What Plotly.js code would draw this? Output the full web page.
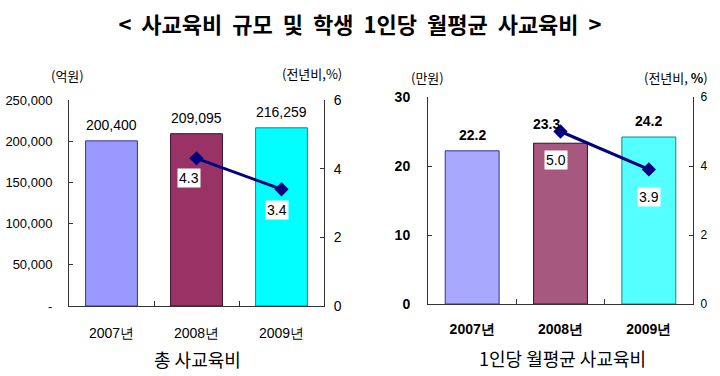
<!DOCTYPE html>
<html><head><meta charset="utf-8">
<script src="https://cdn.plot.ly/plotly-3.0.1.min.js"></script>
<style>body{margin:0;background:#fff}#c{width:720px;height:376px}</style>
</head><body><div id="c"></div>
<script>
// ---- data ----
const years = ['2007년', '2008년', '2009년'];
const totalCost = [200400, 209095, 216259];           // 억원
const totalCostLabels = ['200,400', '209,095', '216,259'];
const growthYears = ['2008년', '2009년'];
const totalGrowth = [4.3, 3.4];                         // 전년비 %
const perCapita = [22.2, 23.3, 24.2];                   // 만원
const perCapitaGrowth = [5.0, 3.9];                     // 전년비 %
const leftTickVals = [0, 50000, 100000, 150000, 200000, 250000];
const leftTickText = ['-', '50,000', '100,000', '150,000', '200,000', '250,000'];
const pctTickVals = [0, 2, 4, 6];
const perTickVals = [0, 10, 20, 30];

// ---- styles ----
const NARROW = '"Liberation Sans Narrow", "Arial Narrow", "Liberation Sans", Arial, sans-serif';
const KR = '"Noto Sans CJK KR", "Liberation Sans", sans-serif';
const colorsL = ['#9999FF', '#993366', '#00FFFF'];
const colorsR = ['#A8A8FF', '#A6587E', '#55FFFF'];
const outline = ['#333399', '#3a1028', '#118888'];

const traces = [
  {type: 'bar', x: years, y: totalCost, xaxis: 'x', yaxis: 'y',
   marker: {color: colorsL, line: {color: outline, width: 1}}, hoverinfo: 'none'},
  {type: 'scatter', mode: 'lines+markers', x: growthYears, y: totalGrowth, xaxis: 'x', yaxis: 'y2',
   line: {color: '#000080', width: 3}, marker: {symbol: 'diamond', size: 11, color: '#000080'}},
  {type: 'bar', x: years, y: perCapita, xaxis: 'x2', yaxis: 'y3',
   marker: {color: colorsR, line: {color: outline, width: 1}}, hoverinfo: 'none'},
  {type: 'scatter', mode: 'lines+markers', x: growthYears, y: perCapitaGrowth, xaxis: 'x2', yaxis: 'y4',
   line: {color: '#000080', width: 3}, marker: {symbol: 'diamond', size: 11, color: '#000080'}}
];

const tickFontL = {family: NARROW, size: 13, color: '#000'};
const tickFontRB = {family: NARROW, size: 14, color: '#000', weight: 'bold'};
const axisBase = {showline: true, linecolor: '#333', linewidth: 1, showgrid: false, zeroline: false,
                  ticks: 'inside', ticklen: 4, tickcolor: '#333', fixedrange: true};

const anns = [];
// bar value labels
totalCost.forEach((v, i) => anns.push({x: years[i], y: v, xref: 'x', yref: 'y', text: totalCostLabels[i],
  showarrow: false, yanchor: 'bottom', yshift: 6, font: {family: NARROW, size: 14, color: '#000'}}));
const perShiftX = [0, -14, 0];
perCapita.forEach((v, i) => anns.push({x: years[i], y: v, xref: 'x2', yref: 'y3', text: v.toFixed(1),
  showarrow: false, yanchor: 'bottom', yshift: i === 1 ? 9 : 6, xshift: perShiftX[i],
  font: {family: NARROW, size: 14, color: '#000', weight: 'bold'}}));
// growth labels (white boxes)
const gL = [[-8, -20], [-5, -21]];
totalGrowth.forEach((v, i) => anns.push({x: growthYears[i], y: v, xref: 'x', yref: 'y2', text: v.toFixed(1),
  showarrow: false, xshift: gL[i][0], yshift: gL[i][1], bgcolor: '#fff', borderpad: 1,
  font: {family: NARROW, size: 14, color: '#000'}}));
const gR = [[-5, -28], [0, -28]];
perCapitaGrowth.forEach((v, i) => anns.push({x: growthYears[i], y: v, xref: 'x2', yref: 'y4', text: v.toFixed(1),
  showarrow: false, xshift: gR[i][0], yshift: gR[i][1], bgcolor: '#fff', borderpad: 1,
  font: {family: NARROW, size: 14, color: '#000'}}));
// unit labels & subplot titles
const paperText = (x, y, text, font) => anns.push({xref: 'paper', yref: 'paper', x: x / 720, y: 1 - y / 376,
  text, showarrow: false, xanchor: 'center', yanchor: 'middle', font});
paperText(67, 75, '(억원)', {family: KR, size: 13, color: '#000'});
paperText(312, 74, '(전년비,%)', {family: KR, size: 13, color: '#000'});
paperText(427, 78, '(만원)', {family: KR, size: 13, color: '#000'});
paperText(676, 78, '(전년비, <b>%</b>)', {family: KR, size: 13, color: '#000'});
paperText(197, 359, '총 사교육비', {family: KR, size: 18, color: '#000'});
paperText(562, 358, '1인당 월평균 사교육비', {family: KR, size: 18, color: '#000'});

const S = ' \u00A0';
const layout = {
  width: 720, height: 376, margin: {l: 0, r: 0, t: 0, b: 0},
  paper_bgcolor: '#fff', plot_bgcolor: '#fff', showlegend: false, bargap: 0.39,
  title: {text: ['<', '사교육비', '규모', '및', '학생', '1인당', '월평균', '사교육비', '>'].join(S),
          x: 0.5, xanchor: 'center',
          y: 1 - 25 / 376, yanchor: 'middle', font: {family: KR, size: 22, color: '#000', weight: 'bold'}},
  xaxis: Object.assign({}, axisBase, {domain: [69 / 720, 324 / 720], anchor: 'y', type: 'category',
          tickson: 'boundaries', ticklen: 5, tickfont: {family: NARROW, size: 14, color: '#000'},
          ticklabelstandoff: 14, mirror: false}),
  yaxis: Object.assign({}, axisBase, {domain: [1 - 306 / 376, 1 - 100 / 376], anchor: 'x', range: [0, 250000],
          tickvals: leftTickVals, ticktext: leftTickText, tickfont: tickFontL, ticklabelstandoff: 13}),
  yaxis2: Object.assign({}, axisBase, {overlaying: 'y', side: 'right', anchor: 'x', range: [0, 6],
          tickvals: pctTickVals, tickfont: {family: NARROW, size: 14, color: '#000'}, ticklabelstandoff: 6}),
  xaxis2: Object.assign({}, axisBase, {domain: [428 / 720, 693 / 720], anchor: 'y3', type: 'category',
          tickson: 'boundaries', ticklen: 5, tickfont: tickFontRB, ticklabelstandoff: 12}),
  yaxis3: Object.assign({}, axisBase, {domain: [1 - 304 / 376, 1 - 97 / 376], anchor: 'x2', range: [0, 30],
          tickvals: perTickVals, tickfont: tickFontRB, ticklabelstandoff: 14}),
  yaxis4: Object.assign({}, axisBase, {overlaying: 'y3', side: 'right', anchor: 'x2', range: [0, 6],
          tickvals: pctTickVals, tickfont: {family: NARROW, size: 12, color: '#000'}, ticklabelstandoff: 4}),
  annotations: anns
};
Plotly.newPlot('c', traces, layout, {staticPlot: true, displayModeBar: false});
</script></body></html>
